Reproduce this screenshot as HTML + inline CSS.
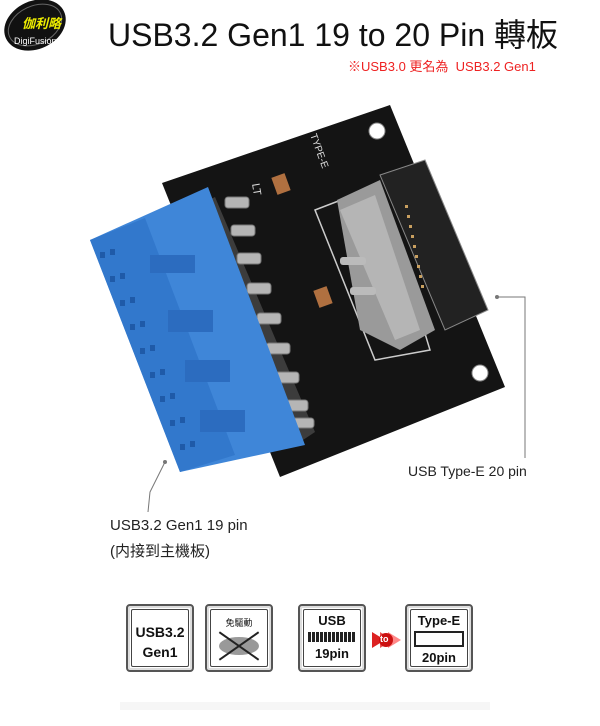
<!DOCTYPE html><html><head><meta charset="utf-8"><style>
body{margin:0;width:600px;height:726px;background:#fff;position:relative;overflow:hidden;font-family:"Liberation Sans","Noto Sans CJK TC",sans-serif}
.t{position:absolute;white-space:nowrap}
.box{position:absolute;width:64px;height:64px;border:2px solid #555;border-radius:4px;background:#fff;box-shadow:0 0 0 2px #ddd inset}
.box .in{position:absolute;left:3px;top:3px;right:3px;bottom:3px;border:1.5px solid #444;border-radius:2px;text-align:center;font-weight:bold;color:#111}
</style></head><body>
<svg width="600" height="726" style="position:absolute;left:0;top:0">
<ellipse cx="35" cy="25" rx="32" ry="24" fill="#111" transform="rotate(-25 35 25)"/>
<ellipse cx="35" cy="25" rx="28" ry="19" fill="none" stroke="#666" transform="rotate(-25 35 25)"/>
<polygon points="162,183 390,105 505,387 280,477" fill="#141414"/>
<circle cx="377" cy="131" r="8" fill="#fff" stroke="#888"/>
<circle cx="480" cy="373" r="8" fill="#fff" stroke="#888"/>
<polygon points="315,210 380,185 430,350 375,360" fill="none" stroke="#ccc" stroke-width="1.5"/>
<polygon points="337,200 380,180 435,330 400,350 360,330" fill="#9a9a9a"/>
<polygon points="340,210 375,195 420,330 395,340" fill="#c8c8c8" opacity=".6"/>
<polygon points="380,175 425,160 488,310 445,330" fill="#222" stroke="#888"/>
<g fill="#c9a060"><rect x="405" y="205" width="3" height="3"/><rect x="407" y="215" width="3" height="3"/><rect x="409" y="225" width="3" height="3"/><rect x="411" y="235" width="3" height="3"/><rect x="413" y="245" width="3" height="3"/><rect x="415" y="255" width="3" height="3"/><rect x="417" y="265" width="3" height="3"/><rect x="419" y="275" width="3" height="3"/><rect x="421" y="285" width="3" height="3"/></g>
<g fill="#bbb"><rect x="340" y="257" width="26" height="8" rx="3"/><rect x="350" y="287" width="26" height="8" rx="3"/></g>
<rect x="274" y="175" width="14" height="18" fill="#b07040" transform="rotate(-20 281 184)"/>
<rect x="316" y="288" width="14" height="18" fill="#b07040" transform="rotate(-20 323 297)"/>
<text x="310" y="135" fill="#ddd" font-size="10" transform="rotate(70 310 135)">TYPE-E</text>
<text x="252" y="184" fill="#ddd" font-size="11" transform="rotate(80 252 184)">LT</text>
<polygon points="198,205 215,197 315,432 300,442" fill="#3c3c3c"/>
<g fill="#b5b5b5" stroke="#777"><rect x="225" y="197" width="24" height="11" rx="3"/><rect x="231" y="225" width="24" height="11" rx="3"/><rect x="237" y="253" width="24" height="11" rx="3"/><rect x="247" y="283" width="24" height="11" rx="3"/><rect x="257" y="313" width="24" height="11" rx="3"/><rect x="266" y="343" width="24" height="11" rx="3"/><rect x="275" y="372" width="24" height="11" rx="3"/><rect x="284" y="400" width="24" height="11" rx="3"/><rect x="292" y="418" width="22" height="10" rx="3"/></g>
<polygon points="90,240 208,187 305,445 180,472" fill="#3f86d8"/>
<polygon points="90,240 145,218 235,455 180,472" fill="#3278cc"/>
<g fill="#1f5aa8">
<g id="r"><rect x="100" y="252" width="5" height="6"/><rect x="110" y="249" width="5" height="6"/></g>
<use href="#r" x="10" y="24"/><use href="#r" x="20" y="48"/><use href="#r" x="30" y="72"/><use href="#r" x="40" y="96"/><use href="#r" x="50" y="120"/><use href="#r" x="60" y="144"/><use href="#r" x="70" y="168"/><use href="#r" x="80" y="192"/>
</g>
<g fill="#2c6cbf"><rect x="150" y="255" width="45" height="18"/><rect x="168" y="310" width="45" height="22"/><rect x="185" y="360" width="45" height="22"/><rect x="200" y="410" width="45" height="22"/></g>
<polyline points="497,297 525,297 525,458" fill="none" stroke="#777"/>
<polyline points="165,462 150,492 148,512" fill="none" stroke="#777"/>
<circle cx="497" cy="297" r="2" fill="#777"/><circle cx="165" cy="462" r="2" fill="#777"/>
<polygon points="372,632 385,640 372,648" fill="#d22"/><polygon points="380,632 393,640 380,648" fill="#e55"/><polygon points="388,632 401,640 388,648" fill="#f88"/>
<circle cx="386" cy="640" r="7" fill="#c11"/>
<rect x="120" y="702" width="370" height="8" fill="#f6f6f6"/>
</svg>
<div class="t" style="left:14px;top:36px;font-size:9px;color:#fff">DigiFusion</div>
<div class="t" style="left:22px;top:13px;font-size:13px;color:#ee0;font-weight:bold;font-style:italic">伽利略</div>
<div class="t" style="left:108px;top:10px;font-size:32px;color:#111">USB3.2 Gen1 19 to 20 Pin 轉板</div>
<div class="t" style="left:348px;top:56px;font-size:13px;color:#e22">※USB3.0 更名為&nbsp; USB3.2 Gen1</div>
<div class="t" style="left:408px;top:463px;font-size:14px;color:#222">USB Type-E 20 pin</div>
<div class="t" style="left:110px;top:517px;font-size:15px;color:#222">USB3.2 Gen1 19 pin</div>
<div class="t" style="left:110px;top:540px;font-size:15px;color:#222">(内接到主機板)</div>
<div class="box" style="left:126px;top:604px"><div class="in" style="font-size:14px;padding-top:12px;line-height:20px">USB3.2<br>Gen1</div></div>
<div class="box" style="left:205px;top:604px"><div class="in" style="font-size:9px;font-weight:normal;padding-top:6px">免驅動<div style="margin:8px auto 0;width:40px;height:18px;border-radius:50%;background:#999;position:relative"><div style="position:absolute;left:-4px;top:8px;width:48px;height:2px;background:#222;transform:rotate(35deg)"></div><div style="position:absolute;left:-4px;top:8px;width:48px;height:2px;background:#222;transform:rotate(-35deg)"></div></div></div></div>
<div class="box" style="left:298px;top:604px"><div class="in" style="font-size:13px;padding-top:3px">USB<div style="margin:4px auto;width:48px;height:10px;background:repeating-linear-gradient(90deg,#222 0 3px,#fff 3px 4px)"></div>19pin</div></div>
<div class="box" style="left:405px;top:604px"><div class="in" style="font-size:13px;padding-top:3px">Type-E<div style="margin:3px auto;width:46px;height:12px;border:2px solid #222;background:#fff"></div>20pin</div></div>
<div class="t" style="left:380px;top:634px;font-size:9px;color:#fff;font-weight:bold">to</div>
</body></html>
